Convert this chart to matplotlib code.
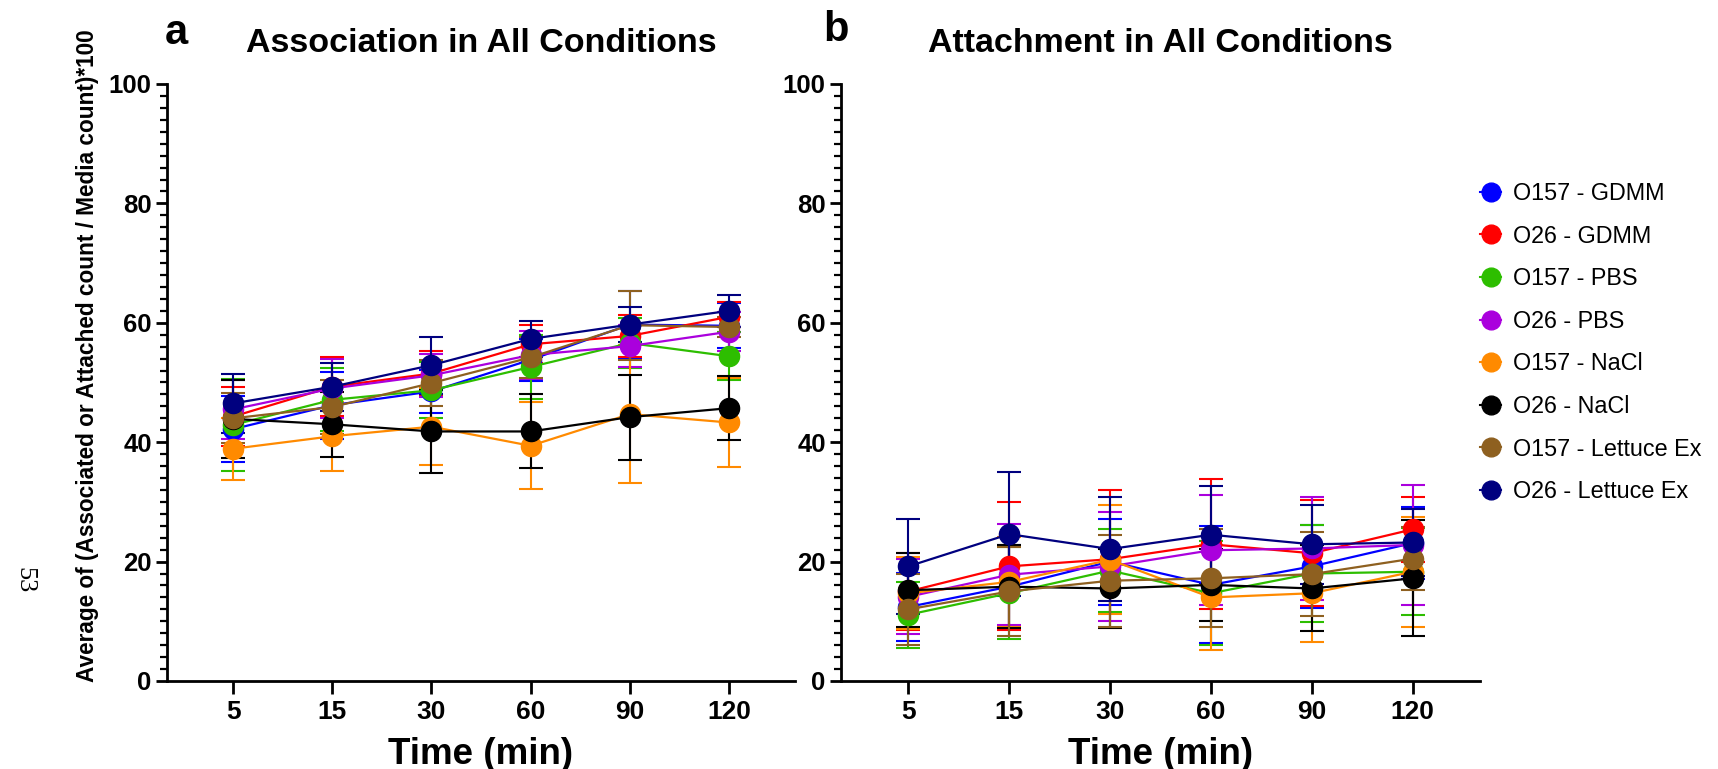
import matplotlib
matplotlib.use("Agg")
import matplotlib.pyplot as plt
from matplotlib.ticker import MultipleLocator
from matplotlib.lines import Line2D

plt.rcParams['font.family'] = ['Liberation Sans', 'DejaVu Sans']

# ---------------- data ----------------
time_labels = ['5', '15', '30', '60', '90', '120']
series_names = ['O157 - GDMM', 'O26 - GDMM', 'O157 - PBS', 'O26 - PBS',
                'O157 - NaCl', 'O26 - NaCl', 'O157 - Lettuce Ex', 'O26 - Lettuce Ex']
series_colors = ['#0000FF', '#FF0000', '#2DBE00', '#AA00DD',
                 '#FF8A00', '#000000', '#8E6020', '#00007F']

# Panel a: Association (mean, SD)
assoc_o157_gdmm = [42.2, 46.2, 48.5, 53.8, 59.7, 59.5]
assoc_o26_gdmm = [44.3, 49.3, 51.5, 56.4, 57.8, 61.0]
assoc_o157_pbs = [42.9, 47.1, 48.7, 52.6, 56.6, 54.4]
assoc_o26_pbs = [45.5, 49.0, 51.2, 54.6, 56.1, 58.5]
assoc_o157_nacl = [38.9, 41.0, 42.6, 39.4, 44.7, 43.3]
assoc_o26_nacl = [43.9, 43.0, 41.8, 41.8, 44.2, 45.7]
assoc_o157_let = [44.0, 45.9, 49.9, 54.2, 59.6, 59.3]
assoc_o26_let = [46.5, 49.3, 52.9, 57.3, 59.7, 62.0]

assoc_sd_o157_gdmm = [5.6, 5.6, 3.6, 3.5, 5.7, 3.8]
assoc_sd_o26_gdmm = [5.0, 4.9, 3.7, 3.2, 3.5, 2.5]
assoc_sd_o157_pbs = [7.7, 5.3, 4.7, 5.3, 4.2, 4.0]
assoc_sd_o26_pbs = [5.0, 5.0, 3.6, 4.0, 3.5, 3.3]
assoc_sd_o157_nacl = [5.2, 5.8, 6.4, 7.3, 11.6, 7.5]
assoc_sd_o26_nacl = [6.5, 5.4, 6.9, 6.2, 7.1, 5.4]
assoc_sd_o157_let = [4.2, 4.5, 3.8, 3.5, 5.8, 1.6]
assoc_sd_o26_let = [5.0, 4.0, 4.8, 3.0, 2.9, 2.7]

# Panel b: Attachment (mean, SD)
att_o157_gdmm = [12.4, 15.8, 20.0, 16.1, 19.2, 23.1]
att_o26_gdmm = [15.0, 19.2, 20.4, 22.9, 21.4, 25.4]
att_o157_pbs = [11.1, 14.7, 18.5, 14.7, 18.0, 18.3]
att_o26_pbs = [14.1, 17.8, 19.2, 21.9, 22.2, 22.8]
att_o157_nacl = [14.7, 16.6, 20.3, 14.0, 14.7, 18.3]
att_o26_nacl = [15.2, 15.8, 15.5, 16.1, 15.5, 17.2]
att_o157_let = [12.0, 15.0, 16.8, 17.2, 17.9, 20.5]
att_o26_let = [19.2, 24.6, 22.1, 24.5, 22.9, 23.2]

att_sd_o157_gdmm = [5.7, 7.0, 7.2, 9.8, 7.0, 6.0]
att_sd_o26_gdmm = [6.5, 10.7, 11.6, 10.9, 8.9, 5.5]
att_sd_o157_pbs = [5.5, 7.7, 7.0, 8.7, 8.1, 7.3]
att_sd_o26_pbs = [6.3, 8.5, 9.1, 9.2, 8.7, 10.0]
att_sd_o157_nacl = [6.0, 7.5, 9.1, 8.8, 8.1, 9.2]
att_sd_o26_nacl = [6.2, 7.0, 6.6, 6.0, 7.2, 9.7]
att_sd_o157_let = [6.0, 7.5, 7.7, 8.2, 7.0, 5.3]
att_sd_o26_let = [7.9, 10.4, 8.7, 8.1, 6.6, 5.6]

assoc_means = [assoc_o157_gdmm, assoc_o26_gdmm, assoc_o157_pbs, assoc_o26_pbs,
               assoc_o157_nacl, assoc_o26_nacl, assoc_o157_let, assoc_o26_let]
assoc_sds = [assoc_sd_o157_gdmm, assoc_sd_o26_gdmm, assoc_sd_o157_pbs, assoc_sd_o26_pbs,
             assoc_sd_o157_nacl, assoc_sd_o26_nacl, assoc_sd_o157_let, assoc_sd_o26_let]
att_means = [att_o157_gdmm, att_o26_gdmm, att_o157_pbs, att_o26_pbs,
             att_o157_nacl, att_o26_nacl, att_o157_let, att_o26_let]
att_sds = [att_sd_o157_gdmm, att_sd_o26_gdmm, att_sd_o157_pbs, att_sd_o26_pbs,
           att_sd_o157_nacl, att_sd_o26_nacl, att_sd_o157_let, att_sd_o26_let]

# ---------------- figure ----------------
W, H = 1718, 769
fig = plt.figure(figsize=(W / 100, H / 100), dpi=100)

def px_axes(x0, x1, ytop, ybot):
    return fig.add_axes([x0 / W, 1 - ybot / H, (x1 - x0) / W, (ybot - ytop) / H])

axA = px_axes(167, 795, 84, 681)
axB = px_axes(841, 1480, 84, 681)

xpos = list(range(len(time_labels)))

def style(ax):
    for s in ['top', 'right']:
        ax.spines[s].set_visible(False)
    for s in ['left', 'bottom']:
        ax.spines[s].set_linewidth(2.0)
    ax.set_xlim(-0.667, len(time_labels) - 1 + 0.667)
    ax.set_ylim(0, 100)
    ax.set_xticks(xpos)
    ax.set_xticklabels(time_labels)
    ax.set_yticks(range(0, 101, 20))
    ax.yaxis.set_minor_locator(MultipleLocator(2))
    ax.tick_params(axis='y', which='major', length=8, width=2, labelsize=18.5, pad=3)
    ax.tick_params(axis='y', which='minor', length=5, width=1.6)
    ax.tick_params(axis='x', which='major', length=9, width=2, labelsize=19, pad=5)
    for lab in ax.get_xticklabels() + ax.get_yticklabels():
        lab.set_fontweight('bold')
    ax.set_xlabel('Time (min)', fontsize=26.5, fontweight='bold', labelpad=9)

def draw(ax, means, sds):
    for m, sd, c in zip(means, sds, series_colors):
        ax.errorbar(xpos, m, yerr=sd, color=c, marker='o', markersize=14.5,
                    linewidth=1.6, elinewidth=1.5, capsize=8.5, capthick=1.5,
                    clip_on=False)

draw(axA, assoc_means, assoc_sds)
draw(axB, att_means, att_sds)
style(axA)
style(axB)

# titles & panel letters
fig.text(481 / W, 1 - 44 / H, 'Association in All Conditions', fontsize=24.5,
         fontweight='bold', ha='center', va='center')
fig.text(1160 / W, 1 - 44 / H, 'Attachment in All Conditions', fontsize=24.5,
         fontweight='bold', ha='center', va='center')
fig.text(176 / W, 1 - 33 / H, 'a', fontsize=30, fontweight='bold', ha='center', va='center')
fig.text(836 / W, 1 - 30 / H, 'b', fontsize=30, fontweight='bold', ha='center', va='center')

# shared y label
fig.text(88 / W, 1 - 356 / H, 'Average of (Associated or Attached count / Media count)*100',
         fontsize=16.3, fontweight='bold', rotation=90, ha='center', va='center')

# page number
fig.text(24 / W, 1 - 580 / H, '53', fontsize=19, family=['Liberation Serif', 'DejaVu Serif'],
         rotation=-90, ha='center', va='center')

# legend
handles = [Line2D([0], [0], color=c, marker='o', markersize=13.5, linewidth=1.5)
           for c in series_colors]
fig.legend(handles, series_names, loc='upper left',
           bbox_to_anchor=(1480 / W, 1 - 182 / H), frameon=False,
           prop={'family': 'Liberation Sans', 'size': 16.8, 'weight': 'normal'},
           handlelength=0.9, handletextpad=0.5, labelspacing=0.84,
           borderpad=0, borderaxespad=0)

fig.savefig('out.png', dpi=100)
